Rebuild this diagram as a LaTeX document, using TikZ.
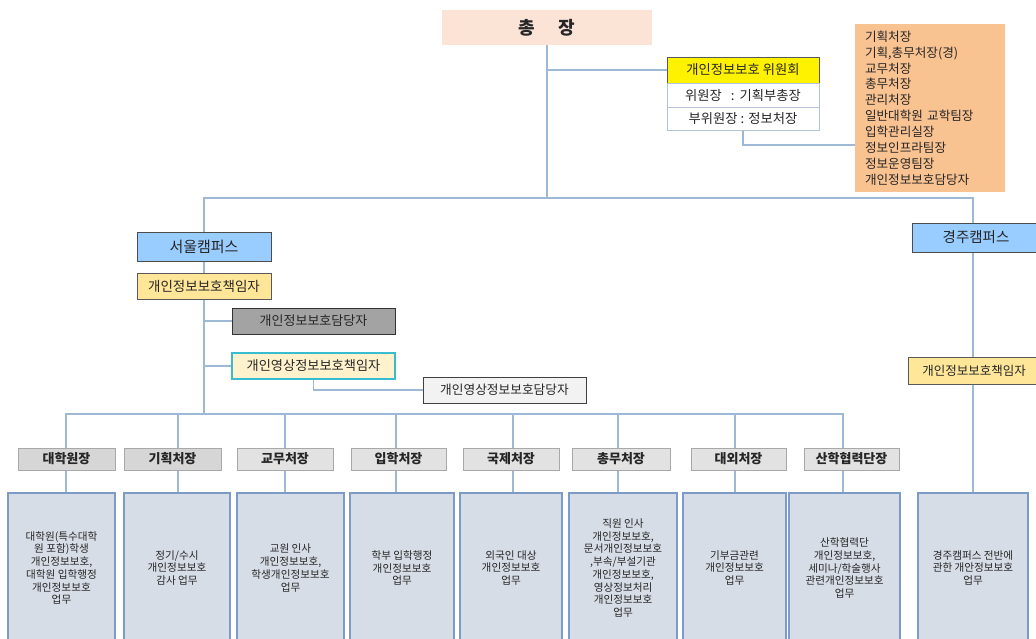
\documentclass[tikz,border=0pt]{standalone}
\usepackage{fontspec}
\setmainfont{Noto Sans CJK KR}
\usetikzlibrary{backgrounds}
\definecolor{conn}{HTML}{9DB9D5}
\definecolor{peach}{HTML}{FBE3D6}
\definecolor{orangebox}{HTML}{F9C291}
\definecolor{campus}{HTML}{99CCFF}
\definecolor{gold}{HTML}{FFE699}
\definecolor{cream}{HTML}{FFF2CC}
\definecolor{cyanb}{HTML}{38BCD0}
\definecolor{darkgray}{HTML}{A3A3A3}
\definecolor{lightgray}{HTML}{F2F2F2}
\definecolor{hdrfill}{HTML}{E2E2E2}
\definecolor{hdrfilld}{HTML}{D6D6D6}
\definecolor{hdrline}{HTML}{A8A8A8}
\definecolor{taskfill}{HTML}{D7DDE6}
\definecolor{taskline}{HTML}{7C9BC6}
\definecolor{rowline}{HTML}{B4C4D8}
\newcommand\fs[2]{\fontsize{#1}{#2}\selectfont}
\begin{document}
\begin{tikzpicture}[x=1pt,y=-1pt,
  base/.style={rectangle, inner sep=0pt, align=center, text=black!85},
  link/.style={draw=conn, line width=1.4pt},
  hdr/.style={base, fill=hdrfill, draw=hdrline, line width=0.8pt, minimum height=22pt, font=\fs{13}{15}\bfseries},
  hdrd/.style={hdr, fill=hdrfilld},
  task/.style={base, fill=taskfill, draw=taskline, line width=1.6pt, minimum height=150pt, font=\fs{10.6}{12.7}, text=black!85},
  campusbox/.style={base, fill=campus, draw=black!70, line width=0.9pt, minimum height=29pt, font=\fs{15}{17}},
  respbox/.style={base, fill=gold, draw=black!65, line width=0.9pt, minimum height=26pt},
  rowbox/.style={base, fill=white, draw=rowline, line width=0.9pt, minimum width=152pt, font=\fs{13.3}{15}},
]
\useasboundingbox (0,0) rectangle (1036,638);
\clip (0,0) rectangle (1036,638);

% top
\node[base, fill=peach, minimum width=210pt, minimum height=35pt, font=\fs{18}{20}\bfseries] (chong) at (547,27.5) {총\hspace{23pt}장};
\node[rowbox, fill=yellow, draw=black!65, minimum height=26pt] (wy1) at (743,70) {개인정보보호 위원회};
\node[rowbox, minimum height=24pt] (wy2) at (743,95) {위원장\hspace{9pt}: \hspace{1pt}기획부총장};
\node[rowbox, minimum height=23pt] (wy3) at (743,118.5) {부위원장 : 정보처장};
\node[base, fill=orangebox, minimum width=150pt, minimum height=168pt, text width=130pt, inner xsep=10pt, align=left, font=\fs{12.6}{15.9}] (org) at (930,108) {기획처장\\기획,총무처장(경)\\교무처장\\총무처장\\관리처장\\일반대학원 교학팀장\\입학관리실장\\정보인프라팀장\\정보운영팀장\\개인정보보호담당자};

% campuses
\node[campusbox, minimum width=134pt] (seoul) at (204,246.5) {서울캠퍼스};
\node[respbox, minimum width=134pt, font=\fs{13.5}{15}] (sresp) at (204,286) {개인정보보호책임자};
\node[base, fill=darkgray, draw=black!80, line width=0.9pt, minimum width=163pt, minimum height=26pt, font=\fs{13}{15}] (sdam) at (313.5,321) {개인정보보호담당자};
\node[base, fill=cream, draw=cyanb, line width=1.2pt, minimum width=163pt, minimum height=26pt, font=\fs{13.2}{15}] (svresp) at (313.5,366) {개인영상정보보호책임자};
\node[base, fill=lightgray, draw=black!75, line width=0.9pt, minimum width=163pt, minimum height=26pt, font=\fs{12.7}{15}] (svdam) at (504.5,390) {개인영상정보보호담당자};

\node[campusbox, minimum width=128pt, font=\fs{14.5}{17}] (gj) at (976,237.5) {경주캠퍼스};
\node[respbox, minimum width=132pt, minimum height=27pt, font=\fs{12.5}{15}] (gjresp) at (974,370.5) {개인정보보호책임자};

% headers
\node[hdrd, minimum width=97pt] (h1) at (66.5,459) {대학원장};
\node[hdrd, minimum width=97pt] (h2) at (172.5,459) {기획처장};
\node[hdr, minimum width=96pt] (h3) at (285,459) {교무처장};
\node[hdr, minimum width=95pt] (h4) at (398.5,459) {입학처장};
\node[hdr, minimum width=96pt] (h5) at (511,459) {국제처장};
\node[hdr, minimum width=98pt] (h6) at (621,459) {총무처장};
\node[hdr, minimum width=95pt] (h7) at (738.5,459) {대외처장};
\node[hdr, minimum width=95pt] (h8) at (851.5,459) {산학협력단장};

% task boxes
\node[task, minimum width=107pt] (b1) at (61.5,568) {대학원(특수대학\\원 포함)학생\\개인정보보호,\\대학원 입학행정\\개인정보보호\\업무};
\node[task, minimum width=106pt] (b2) at (177,568) {정기/수시\\개인정보보호\\감사 업무};
\node[task, minimum width=107pt] (b3) at (290.5,568) {교원 인사\\개인정보보호,\\학생개인정보보호\\업무};
\node[task, minimum width=104pt] (b4) at (402,568) {학부 입학행정\\개인정보보호\\업무};
\node[task, minimum width=102pt] (b5) at (511,568) {외국인 대상\\개인정보보호\\업무};
\node[task, minimum width=108pt] (b6) at (623,568) {직원 인사\\개인정보보호,\\문서개인정보보호\\,부속/부설기관\\개인정보보호,\\영상정보처리\\개인정보보호\\업무};
\node[task, minimum width=103pt] (b7) at (734.5,568) {기부금관련\\개인정보보호\\업무};
\node[task, minimum width=111pt] (b8) at (844.5,568) {산학협력단\\개인정보보호,\\세미나/학술행사\\관련개인정보보호\\업무};
\node[task, minimum width=110pt] (gjb) at (973,568) {경주캠퍼스 전반에\\관한 개안정보보호\\업무};

% helper coordinates
\coordinate (bus) at (0,198);
\coordinate (dbus) at (0,414);
\coordinate (y145) at (0,145);
\coordinate (v1) at (66,0);
\coordinate (v2) at (178,0);
\coordinate (v3) at (285,0);
\coordinate (v4) at (396,0);
\coordinate (v5) at (513,0);
\coordinate (v6) at (618,0);
\coordinate (v7) at (735,0);
\coordinate (v8) at (843,0);
\coordinate (v9) at (973,0);
\coordinate (vs) at (204,0);

\begin{pgfonlayer}{background}
\fill[white] (0,0) rectangle (1036,638);
\draw[link] (chong.south) -- (chong.south |- bus);
\draw[link] (chong.south |- wy1.west) -- (wy1.west);
\draw[link] (wy3.south) |- (org.west |- y145);
\draw[link] (seoul.north) -- (seoul.north |- bus) -- (v9 |- bus) -- (v9 |- gjb.north);
\draw[link] (seoul.south) -- (sresp.north);
\draw[link] (sresp.south) -- (vs |- dbus);
\draw[link] (vs |- sdam.west) -- (sdam.west);
\draw[link] (vs |- svresp.west) -- (svresp.west);
\draw[link] (svresp.south) |- (svdam.west);
\draw[link] (v1 |- h1.north) -- (v1 |- dbus) -- (v8 |- dbus) -- (v8 |- h8.north);
\foreach \i in {2,...,7} { \draw[link] (v\i |- dbus) -- (v\i |- h\i.north); }
\foreach \i in {1,...,8} { \draw[link] (v\i |- h\i.south) -- (v\i |- b\i.north); }
\end{pgfonlayer}
\end{tikzpicture}
\end{document}
